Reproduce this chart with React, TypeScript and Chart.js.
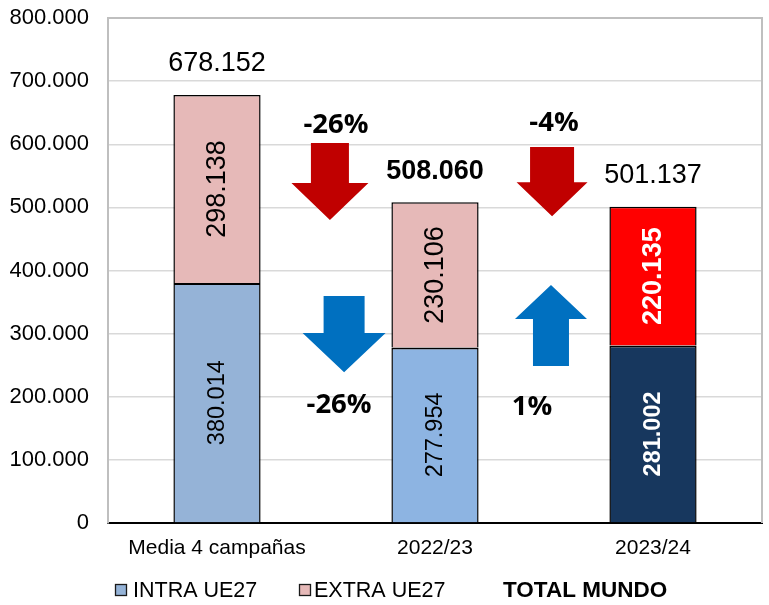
import React, { useEffect, useRef } from 'react';
import { Chart, registerables } from 'chart.js';

Chart.register(...registerables);

// ---- data ----
const categories = ['Media 4 campañas', '2022/23', '2023/24'];
const intraValues = [380014, 277954, 281002];
const extraValues = [298138, 230106, 220135];
const totalValues = [678152, 508060, 501137];
const seriesLabels = ['INTRA UE27', 'EXTRA UE27', 'TOTAL MUNDO'];
const yMax = 800000;
const yStep = 100000;
const totalChangeLabels = ['-26%', '-4%'];
const intraChangeLabels = ['-26%', '1%'];

// ---- styles ----
const intraColors = ['#95B3D7', '#8DB4E2', '#17375E'];
const extraColors = ['#E6B9B8', '#E6B9B8', '#FF0000'];
const RED_ARROW = '#C00000';
const BLUE_ARROW = '#0070C0';
const FONT = '"Liberation Sans", Arial, sans-serif';
const PCT_FONT = '"Open Sans", sans-serif';

// annotation arrows, in data units (x: category index, y: value)
const arrows = [
  { x: 0.518, tail: 602000, base: 538600, tip: 480000, shaft: 38, head: 77, color: RED_ARROW },
  { x: 1.537, tail: 595600, base: 540000, tip: 486000, shaft: 44, head: 71, color: RED_ARROW },
  { x: 0.583, tail: 359600, base: 301000, tip: 239000, shaft: 41, head: 83, color: BLUE_ARROW },
  { x: 1.532, tail: 248700, base: 323000, tip: 377000, shaft: 36, head: 72, color: BLUE_ARROW },
];
const pctTexts = [
  { text: totalChangeLabels[0], x: 0.546, y: 630500 },
  { text: totalChangeLabels[1], x: 1.546, y: 633700 },
  { text: intraChangeLabels[0], x: 0.56, y: 187000 },
  { text: intraChangeLabels[1], x: 1.445, y: 183800 },
];

function fmt(n: number): string {
  return Math.round(n).toString().replace(/\B(?=(\d{3})+(?!\d))/g, '.');
}

const annotPlugin = {
  id: 'annot',
  beforeDatasetsDraw(chart: any) {
    const { ctx, chartArea } = chart;
    ctx.save();
    ctx.strokeStyle = '#BFBFBF';
    ctx.lineWidth = 2;
    ctx.beginPath();
    ctx.moveTo(chartArea.left, chartArea.top);
    ctx.lineTo(chartArea.right, chartArea.top);
    ctx.lineTo(chartArea.right, chartArea.bottom);
    ctx.stroke();
    ctx.restore();
  },
  afterDatasetsDraw(chart: any) {
    const { ctx } = chart;
    const xs = chart.scales.x;
    const ys = chart.scales.y;
    ctx.save();
    const metaI = chart.getDatasetMeta(0);
    const metaE = chart.getDatasetMeta(1);
    const drawSeg = (el: any, val: number, i: number, big: boolean) => {
      const cy = (el.y + el.base) / 2;
      ctx.save();
      ctx.translate(el.x, cy);
      ctx.rotate(-Math.PI / 2);
      const bold = i === 2;
      const size = big ? 27 : 23.5;
      ctx.font = `${bold ? 'bold ' : ''}${size}px ${FONT}`;
      ctx.fillStyle = bold ? '#FFFFFF' : '#000000';
      ctx.textAlign = 'center';
      ctx.textBaseline = 'middle';
      ctx.fillText(fmt(val), 0, 1);
      ctx.restore();
    };
    metaI.data.forEach((el: any, i: number) => drawSeg(el, intraValues[i], i, false));
    metaE.data.forEach((el: any, i: number) => drawSeg(el, extraValues[i], i, true));
    metaE.data.forEach((el: any, i: number) => {
      ctx.font = `${i === 1 ? 'bold ' : ''}27px ${FONT}`;
      ctx.fillStyle = '#000';
      ctx.textAlign = 'center';
      ctx.textBaseline = 'middle';
      const y = ys.getPixelForValue(totalValues[i]);
      ctx.fillText(fmt(totalValues[i]), el.x, y - 31);
    });
    arrows.forEach((a) => {
      const cx = xs.getPixelForValue(a.x);
      const t = ys.getPixelForValue(a.tail);
      const b = ys.getPixelForValue(a.base);
      const p = ys.getPixelForValue(a.tip);
      ctx.fillStyle = a.color;
      ctx.beginPath();
      ctx.moveTo(cx - a.shaft / 2, t);
      ctx.lineTo(cx + a.shaft / 2, t);
      ctx.lineTo(cx + a.shaft / 2, b);
      ctx.lineTo(cx + a.head / 2, b);
      ctx.lineTo(cx, p);
      ctx.lineTo(cx - a.head / 2, b);
      ctx.lineTo(cx - a.shaft / 2, b);
      ctx.closePath();
      ctx.fill();
    });
    pctTexts.forEach((p) => {
      ctx.font = `bold 27.5px ${PCT_FONT}`;
      ctx.fillStyle = '#000';
      ctx.textAlign = 'center';
      ctx.textBaseline = 'middle';
      ctx.fillText(p.text, xs.getPixelForValue(p.x), ys.getPixelForValue(p.y));
    });
    ctx.restore();
  },
  afterDraw(chart: any) {
    const { ctx } = chart;
    ctx.save();
    const cy = 590;
    const items = [
      { label: seriesLabels[0], color: intraColors[0], boxX: 115, textX: 133, bold: false },
      { label: seriesLabels[1], color: extraColors[0], boxX: 299, textX: 314, bold: false },
      { label: seriesLabels[2], color: null, boxX: 0, textX: 503, bold: true },
    ];
    items.forEach((it) => {
      if (it.color) {
        ctx.fillStyle = it.color;
        ctx.fillRect(it.boxX, cy - 6, 12, 12);
        ctx.strokeStyle = '#1A1A1A';
        ctx.lineWidth = 1.3;
        ctx.strokeRect(it.boxX + 0.5, cy - 5.5, 11, 11);
      }
      ctx.font = `${it.bold ? 'bold 22.5px ' : '21.5px '}${FONT}`;
      ctx.fillStyle = '#000';
      ctx.textAlign = 'left';
      ctx.textBaseline = 'middle';
      ctx.fillText(it.label, it.textX, cy + 1);
    });
    ctx.restore();
  },
};

export default function App() {
  const ref = useRef<HTMLCanvasElement | null>(null);
  useEffect(() => {
    if (!ref.current) return;
    const chart = new Chart(ref.current, {
      type: 'bar',
      data: {
        labels: categories,
        datasets: [
          {
            label: seriesLabels[0],
            data: intraValues,
            backgroundColor: intraColors,
            borderColor: '#000',
            borderWidth: { top: 2, left: 1.5, right: 1.5, bottom: 0 },
            borderSkipped: false,
            barPercentage: 0.4,
            categoryPercentage: 1.0,
          },
          {
            label: seriesLabels[1],
            data: extraValues,
            backgroundColor: extraColors,
            borderColor: '#000',
            borderWidth: { top: 1.5, left: 1.5, right: 1.5, bottom: 0 },
            borderSkipped: false,
            barPercentage: 0.4,
            categoryPercentage: 1.0,
          },
        ],
      },
      options: {
        responsive: false,
        animation: false,
        devicePixelRatio: 1,
        layout: { padding: { top: 18, right: 7, left: 0, bottom: 0 } },
        plugins: { legend: { display: false }, tooltip: { enabled: false } },
        scales: {
          x: {
            stacked: true,
            grid: { display: false, drawTicks: false },
            border: { color: '#000', width: 2 },
            ticks: { font: { family: FONT, size: 21 }, color: '#000', padding: 13, maxRotation: 0 },
            afterFit: (s: any) => { s.height = 82; s.paddingLeft = 0; s.paddingRight = 0; },
          },
          y: {
            stacked: true,
            min: 0,
            max: yMax,
            grid: { color: '#D9D9D9', lineWidth: 1.5, drawTicks: false },
            border: { color: '#BFBFBF', width: 2 },
            ticks: {
              stepSize: yStep,
              font: { family: FONT, size: 22 },
              color: '#000',
              padding: 19,
              callback: (v: any) => fmt(Number(v)),
            },
            afterFit: (s: any) => { s.width = 108; s.paddingTop = 0; s.paddingBottom = 0; },
          },
        },
      },
      plugins: [annotPlugin],
    });
    return () => chart.destroy();
  }, []);
  return (
    <div style={{ position: 'absolute', left: 0, top: 0, width: 769, height: 605, background: '#fff' }}>
      <canvas ref={ref} width={769} height={605} style={{ width: 769, height: 605 }} />
    </div>
  );
}
